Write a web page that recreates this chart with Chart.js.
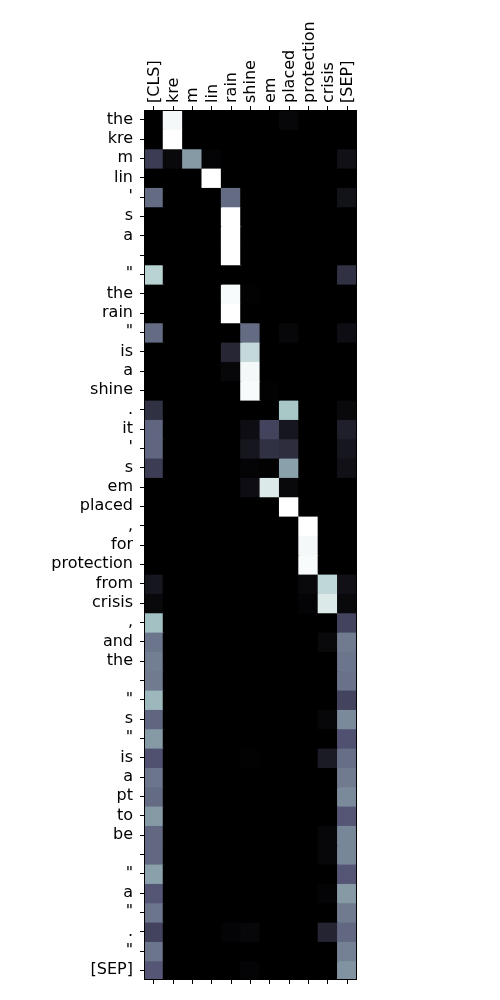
<!DOCTYPE html>
<html>
<head>
<meta charset="utf-8">
<script src="https://cdn.jsdelivr.net/npm/chart.js@4/dist/chart.umd.min.js"></script>
<style>
html,body{margin:0;padding:0;background:#fff;}
#wrap{width:500px;height:1000px;position:relative;}
</style>
</head>
<body>
<div id="wrap"><canvas id="c" width="500" height="1000"></canvas></div>
<script>
const colLabels = ['[CLS]','kre','m','lin','rain','shine','em','placed','protection','crisis','[SEP]'];
const rowLabels = ['the','kre','m','lin',"'",'s','a','','"','the','rain','"','is','a','shine','.','it',"'",'s','em','placed',',','for','protection','from','crisis',',','and','the','','"','s','"','is','a','pt','to','be','','"','a','"','.','"','[SEP]'];
const attention = [
  [0,0.97,0,0,0,0,0,0.03,0,0,0],
  [0,1,0,0,0,0,0,0,0,0,0],
  [0.27,0.04,0.6,0.02,0,0,0,0,0,0,0.07],
  [0,0,0,1,0,0,0,0,0,0,0],
  [0.45,0,0,0,0.45,0,0,0,0,0,0.08],
  [0,0,0,0,1,0,0,0,0,0,0],
  [0,0,0,0,1,0,0,0,0,0,0],
  [0,0,0,0,1,0,0,0,0,0,0],
  [0.8,0,0,0,0,0,0,0,0,0,0.22],
  [0,0,0,0,0.98,0.01,0,0,0,0,0],
  [0,0,0,0,1,0,0,0,0,0,0],
  [0.45,0,0,0,0,0.45,0,0.03,0,0,0.06],
  [0,0,0,0,0.17,0.83,0,0,0,0,0],
  [0,0,0,0,0.03,0.97,0,0,0,0,0],
  [0,0,0,0,0,0.98,0.01,0,0,0,0],
  [0.22,0,0,0,0,0,0,0.75,0,0,0.04],
  [0.43,0,0,0,0,0.06,0.3,0.1,0,0,0.14],
  [0.43,0,0,0,0,0.1,0.22,0.2,0,0,0.1],
  [0.27,0,0,0,0,0.02,0.01,0.62,0,0,0.07],
  [0,0,0,0,0,0.06,0.9,0.04,0,0,0],
  [0,0,0,0,0,0,0,1,0,0,0],
  [0,0,0,0,0,0,0,0,1,0,0],
  [0,0,0,0,0,0,0,0,0.97,0,0],
  [0,0,0,0,0,0,0,0,0.98,0,0],
  [0.1,0,0,0,0,0,0,0,0.04,0.82,0.07],
  [0.04,0,0,0,0,0,0,0,0.02,0.9,0.04],
  [0.73,0,0,0,0,0,0,0,0,0,0.3],
  [0.48,0,0,0,0,0,0,0,0,0.04,0.5],
  [0.51,0,0,0,0,0,0,0,0,0,0.48],
  [0.5,0,0,0,0,0,0,0,0,0,0.47],
  [0.7,0,0,0,0,0,0,0,0,0,0.3],
  [0.43,0,0,0,0,0,0,0,0,0.03,0.55],
  [0.6,0,0,0,0,0,0,0,0,0,0.36],
  [0.36,0,0,0,0,0.01,0,0,0,0.12,0.46],
  [0.48,0,0,0,0,0,0,0,0,0,0.5],
  [0.45,0,0,0,0,0,0,0,0,0,0.55],
  [0.6,0,0,0,0,0,0,0,0,0,0.38],
  [0.44,0,0,0,0,0,0,0,0,0.03,0.54],
  [0.44,0,0,0,0,0,0,0,0,0.03,0.54],
  [0.62,0,0,0,0,0,0,0,0,0,0.38],
  [0.38,0,0,0,0,0,0,0,0,0.02,0.6],
  [0.48,0,0,0,0,0,0,0,0,0,0.5],
  [0.3,0,0,0,0.02,0.03,0,0,0,0.16,0.44],
  [0.48,0,0,0,0,0,0,0,0,0,0.52],
  [0.38,0,0,0,0,0.02,0,0,0,0,0.58]
];

// matplotlib "bone" colormap
function interp(pts, x){
  for(let i=1;i<pts.length;i++){
    if(x<=pts[i][0]){
      const [x0,y0]=pts[i-1],[x1,y1]=pts[i];
      return y0+(y1-y0)*(x-x0)/(x1-x0);
    }
  }
  return pts[pts.length-1][1];
}
const R=[[0,0],[0.746032,0.652778],[1,1]];
const G=[[0,0],[0.365079,0.319444],[0.746032,0.777778],[1,1]];
const B=[[0,0],[0.365079,0.444444],[1,1]];
function bone(v){
  v=Math.max(0,Math.min(1,v));
  const r=Math.round(255*interp(R,v)),g=Math.round(255*interp(G,v)),b=Math.round(255*interp(B,v));
  return `rgb(${r},${g},${b})`;
}

const datasets = rowLabels.map((lab,i)=>({
  label: 'row'+i,
  data: colLabels.map(()=>[i,i+1]),
  backgroundColor: attention[i].map(bone),
  borderWidth: 0,
  inflateAmount: 0.6,
  barPercentage: 1,
  categoryPercentage: 1,
  grouped: false
}));

const frame = {
  id:'frame',
  afterDatasetsDraw(chart){
    const {ctx,chartArea:a}=chart;
    ctx.save();
    ctx.strokeStyle='#000';ctx.lineWidth=1;
    ctx.strokeRect(Math.round(a.left)+0.5,Math.round(a.top)+0.5,Math.round(a.right-a.left)-1,Math.round(a.bottom-a.top)-1);
    ctx.restore();
  }
};

const font={family:'DejaVu Sans',size:16};
new Chart(document.getElementById('c'),{
  type:'bar',
  data:{labels:colLabels,datasets},
  options:{
    responsive:false,animation:false,
    layout:{padding:{left:0,right:143,top:0,bottom:0}},
    plugins:{legend:{display:false},tooltip:{enabled:false}},
    scales:{
      x:{
        type:'category',position:'top',offset:true,
        grid:{display:true,drawOnChartArea:false,offset:false,tickLength:4,tickColor:'#000',lineWidth:1},
        border:{display:false},
        ticks:{color:'#000',font,maxRotation:90,minRotation:90,autoSkip:false,padding:3,labelOffset:20},
        afterFit(s){s.height=110;}
      },
      x2:{
        type:'category',position:'bottom',offset:true,labels:colLabels,
        grid:{display:true,drawOnChartArea:false,offset:false,tickLength:4,tickColor:'#000'},
        border:{display:false},
        ticks:{display:false},
        afterFit(s){s.height=20;}
      },
      y:{
        type:'linear',min:0,max:rowLabels.length,reverse:true,
        grid:{display:true,drawOnChartArea:false,tickLength:4,tickColor:'#000'},
        border:{display:false},
        afterBuildTicks(s){s.ticks=rowLabels.map((_,i)=>({value:i+0.5}));},
        ticks:{color:'#000',font,autoSkip:false,padding:7,callback:(v,idx)=>rowLabels[idx]},
        afterFit(s){s.width=144;}
      }
    }
  },
  plugins:[frame]
});
</script>
</body>
</html>
